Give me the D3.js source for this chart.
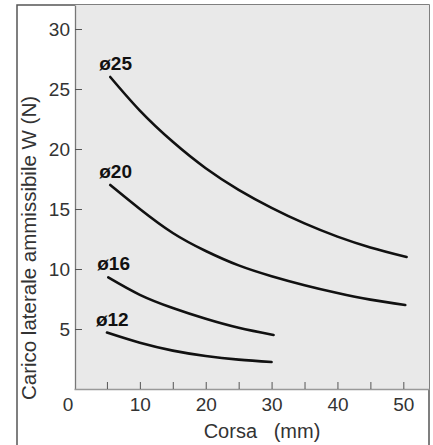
<!DOCTYPE html>
<html>
<head>
<meta charset="utf-8">
<script src="https://cdn.jsdelivr.net/npm/d3@7/dist/d3.min.js"></script>
<style>
  body { margin: 0; background: #fff; }
  text { font-family: "Liberation Sans", Arial, Helvetica, sans-serif; }
</style>
</head>
<body>
<div id="chart"></div>
<script>
(function () {
	'use strict';

	// values
	var corsa12 = [5, 10, 15, 20, 25, 30];
	var load12 = [4.7, 3.85, 3.2, 2.75, 2.45, 2.25];
	var corsa16 = [5.2, 10, 15, 20, 25, 30.3];
	var load16 = [9.3, 7.85, 6.75, 5.85, 5.1, 4.5];
	var corsa20 = [5.5, 10, 15, 20, 25, 30, 35, 40, 45, 50.3];
	var load20 = [17.0, 15.0, 13.0, 11.5, 10.3, 9.4, 8.65, 8.0, 7.45, 7.0];
	var corsa25 = [5.5, 10, 15, 20, 25, 30, 35, 40, 45, 50.5];
	var load25 = [26.0, 23.2, 20.6, 18.4, 16.6, 15.1, 13.8, 12.7, 11.8, 11.0];
	var seriesNames = ['ø12', 'ø16', 'ø20', 'ø25'];
	var xTicks = [5, 10, 15, 20, 25, 30, 35, 40, 45, 50];
	var yTicks = [5, 10, 15, 20, 25, 30];

	var width = 433, height = 445;
	var left = 75, right = 429, top = 5, bottom = 389;

	var svg = d3.select('#chart').append('svg')
		.attr('width', width)
		.attr('height', height);

	// outer frame
	svg.append('path')
		.attr('d', 'M17,' + height + 'V' + top + 'H' + right + 'V' + height)
		.attr('fill', 'none')
		.attr('stroke', '#555')
		.attr('stroke-width', 1.5);

	// plot background
	svg.append('rect')
		.attr('x', left)
		.attr('y', top)
		.attr('width', right - left)
		.attr('height', bottom - top)
		.attr('fill', '#e9e9e9');

	var x = d3.scaleLinear().domain([0, 53.9]).range([74, right]);
	var y = d3.scaleLinear().domain([0, 32]).range([bottom, top]);

	var yAxis = svg.append('g')
		.attr('transform', 'translate(' + left + ',0)')
		.call(d3.axisLeft(y).tickValues(yTicks).tickSizeInner(-7).tickSizeOuter(0).tickPadding(5));
	yAxis.select('.domain').attr('stroke', '#777').attr('stroke-width', 1.3);
	yAxis.selectAll('.tick line').attr('stroke', '#555');
	yAxis.selectAll('.tick text')
		.attr('fill', '#333')
		.style('font-size', '19px');

	var xAxis = svg.append('g')
		.attr('transform', 'translate(0,' + bottom + ')')
		.call(d3.axisBottom(x).tickValues(xTicks).tickSizeInner(-7).tickSizeOuter(0).tickPadding(9)
			.tickFormat(function (d) { return d % 10 === 0 ? d : ''; }));
	xAxis.select('.domain').attr('stroke', '#999').attr('stroke-width', 1.3);
	xAxis.selectAll('.tick line').attr('stroke', '#555');
	xAxis.selectAll('.tick text')
		.attr('fill', '#333')
		.style('font-size', '19px');

	// zero label sits a little left of the axis
	svg.append('text')
		.attr('x', x(0) - 6)
		.attr('y', bottom + 9)
		.attr('dy', '0.71em')
		.attr('text-anchor', 'middle')
		.attr('fill', '#333')
		.style('font-size', '19px')
		.text('0');

	// axis titles
	svg.append('text')
		.attr('x', 262)
		.attr('y', 438)
		.attr('text-anchor', 'middle')
		.attr('fill', '#333')
		.style('font-size', '20px')
		.attr('xml:space', 'preserve')
		.text('Corsa   (mm)');

	svg.append('text')
		.attr('transform', 'translate(36,248) rotate(-90)')
		.attr('text-anchor', 'middle')
		.attr('fill', '#333')
		.style('font-size', '20.5px')
		.text('Carico laterale ammissibile W (N)');

	// curves
	var series = [
		{ name: seriesNames[0], xs: corsa12, ys: load12 },
		{ name: seriesNames[1], xs: corsa16, ys: load16 },
		{ name: seriesNames[2], xs: corsa20, ys: load20 },
		{ name: seriesNames[3], xs: corsa25, ys: load25 }
	];

	var line = d3.line()
		.x(function (d) { return x(d[0]); })
		.y(function (d) { return y(d[1]); })
		.curve(d3.curveNatural);

	series.forEach(function (s) {
		var pts = d3.zip(s.xs, s.ys);
		svg.append('path')
			.datum(pts)
			.attr('d', line)
			.attr('fill', 'none')
			.attr('stroke', '#111')
			.attr('stroke-width', 2.6)
			.attr('stroke-linecap', 'round');

		svg.append('text')
			.attr('x', x(s.xs[0]) - 11)
			.attr('y', y(s.ys[0]) - 7)
			.attr('fill', '#111')
			.style('font-size', '19px')
			.style('font-weight', 'bold')
			.text(s.name);
	});
}());
</script>
</body>
</html>
